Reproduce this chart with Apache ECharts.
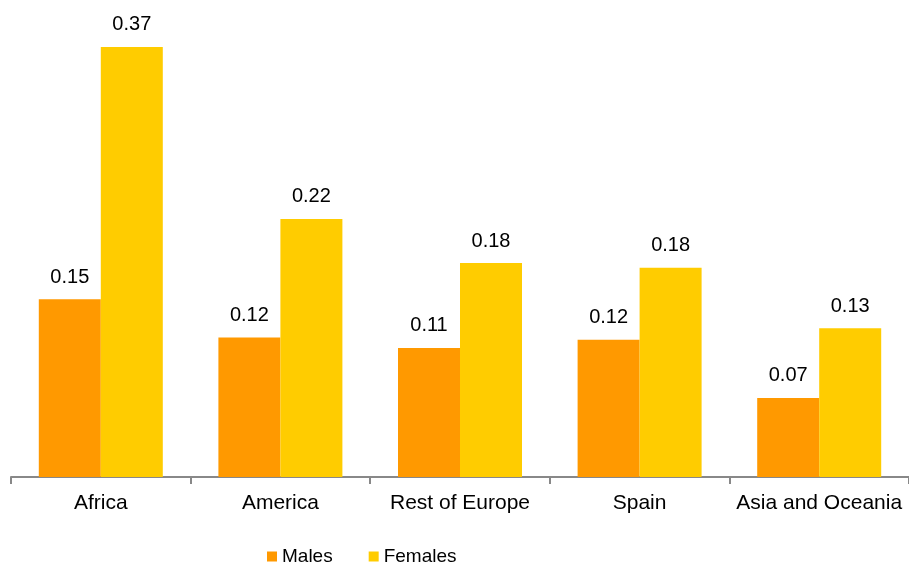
<!DOCTYPE html>
<html>
<head>
<meta charset="utf-8">
<script src="https://cdn.jsdelivr.net/npm/echarts@6/dist/echarts.min.js"></script>
<style>
  html, body { margin: 0; padding: 0; background: #fff; }
  #grafico { width: 909px; height: 563px; }
</style>
</head>
<body>
<div id="grafico"></div>
<script>
var regioes = ['Africa', 'America', 'Rest of Europe', 'Spain', 'Asia and Oceania'];
var homens = [0.153, 0.12, 0.111, 0.118, 0.068];
var mulheres = [0.37, 0.222, 0.184, 0.18, 0.128];

var fonte = '"Liberation Sans", Arial, sans-serif';

function rotulo() {
    return {
        show: true,
        position: 'top',
        distance: 12,
        color: '#000',
        fontFamily: fonte,
        fontSize: 20,
        formatter: function (p) { return p.value.toFixed(2); }
    };
}

var myChart = echarts.init(document.getElementById('grafico'));

var option = {
    animation: false,
    legend: {
        left: 262,
        top: 542,
        itemWidth: 10,
        itemHeight: 10,
        itemGap: 36,
        icon: 'rect',
        textStyle: { fontFamily: fonte, fontSize: 19, color: '#000' },
        data: ['Males', 'Females']
    },
    grid: { left: 11, top: 12, width: 900, bottom: 86 },
    xAxis: {
        type: 'category',
        data: regioes,
        axisLine: { lineStyle: { color: '#888', width: 2 } },
        axisTick: { show: true, interval: 0, length: 7, lineStyle: { color: '#888', width: 2 } },
        axisLabel: { interval: 0, color: '#000', fontFamily: fonte, fontSize: 21, margin: 16 }
    },
    yAxis: {
        type: 'value',
        min: 0,
        max: 0.4,
        show: false,
        splitLine: { show: false }
    },
    series: [
        {
            name: 'Males',
            type: 'bar',
            barWidth: 62,
            barGap: '0%',
            itemStyle: { color: '#FF9900' },
            label: rotulo(),
            data: homens
        },
        {
            name: 'Females',
            type: 'bar',
            barWidth: 62,
            barGap: '0%',
            itemStyle: { color: '#FFCC00' },
            label: rotulo(),
            data: mulheres
        }
    ]
};

myChart.setOption(option);
</script>
</body>
</html>
